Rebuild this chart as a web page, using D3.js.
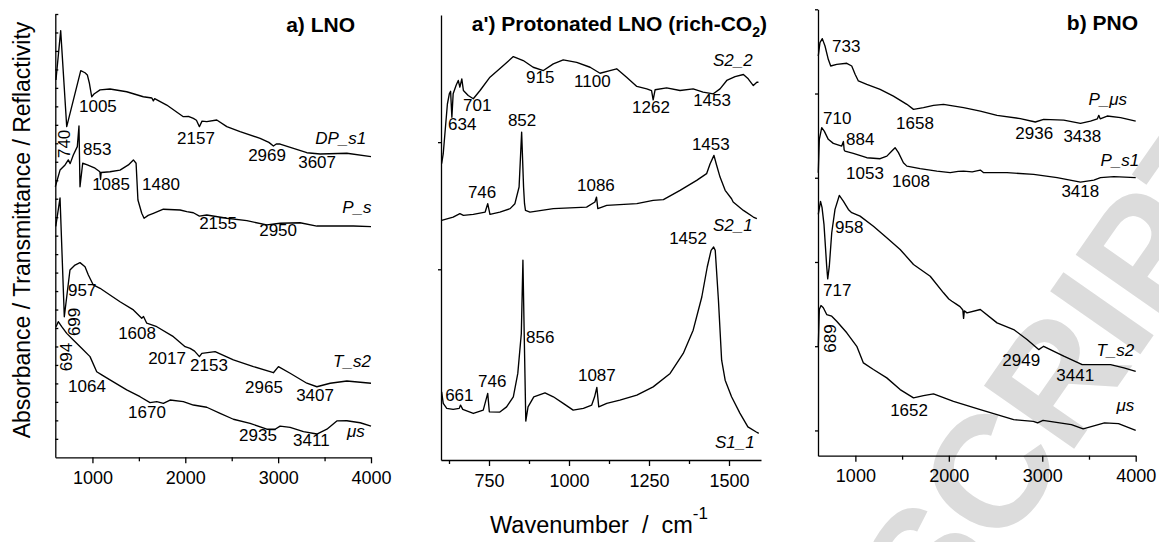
<!DOCTYPE html>
<html><head><meta charset="utf-8">
<script src="https://cdn.jsdelivr.net/npm/d3@7/dist/d3.min.js"></script>
<style>
html,body{margin:0;padding:0;background:#fff;}
svg{display:block;font-family:"Liberation Sans",Arial,Helvetica,sans-serif;}
</style></head><body>
<svg id="chart" width="1159" height="542"></svg>
<script>
// ---------------- DATA ----------------
// Panel a) LNO  (wavenumber cm-1, intensity a.u.)
const lnoDP_s1 = [[607,20.43],[658,23.10],[723,17.90],[874,20.93],[920,20.82],[945,20.70],[966,20.28],[992,19.52],[1017,19.67],[1082,19.89],[1189,19.94],[1369,19.79],[1548,19.52],[1640,19.45],[1656,19.30],[1670,19.42],[1800,19.07],[1979,18.44],[2040,18.45],[2087,18.35],[2120,18.25],[2152,17.90],[2180,18.20],[2231,18.17],[2339,18.26],[2447,17.90],[2590,17.63],[2806,17.27],[2900,17.05],[2949,16.85],[2980,16.96],[3021,16.96],[3165,16.73],[3309,16.49],[3453,16.42],[3740,16.46],[4000,16.28]];
const lnoP_s = [[600,14.65],[651,15.55],[705,15.83],[740,16.10],[760,15.90],[794,16.37],[837,16.82],[855,17.94],[866,14.65],[895,15.92],[945,15.83],[1028,15.65],[1080,15.46],[1087,15.05],[1094,15.42],[1189,15.46],[1297,15.55],[1387,15.83],[1441,16.10],[1470,15.92],[1490,13.93],[1531,13.21],[1556,12.94],[1600,13.10],[1656,13.21],[1764,13.43],[1944,13.39],[2016,13.30],[2087,13.24],[2152,13.06],[2231,13.12],[2447,12.94],[2663,12.81],[2878,12.58],[3021,12.67],[3236,12.70],[3417,12.52],[3596,12.52],[3811,12.52],[4000,12.49]];
const lnoT_s2 = [[605,12.50],[651,14.04],[697,7.61],[758,10.14],[812,10.41],[866,10.54],[920,10.32],[956,9.87],[1009,9.33],[1082,9.15],[1189,8.79],[1297,8.42],[1441,7.98],[1531,7.53],[1550,7.62],[1585,7.26],[1693,7.07],[1872,6.53],[1998,5.99],[2052,5.90],[2100,5.75],[2152,5.45],[2178,5.63],[2321,5.72],[2518,5.27],[2734,4.91],[2949,4.58],[3003,4.91],[3129,4.55],[3309,4.01],[3417,3.82],[3560,4.01],[3740,4.13],[4000,4.01]];
const lnoMus = [[608,7.07],[632,7.34],[669,7.07],[723,6.71],[794,6.35],[884,5.90],[974,5.45],[1046,4.63],[1100,4.46],[1189,4.19],[1369,3.65],[1513,3.28],[1620,2.96],[1693,3.01],[1764,2.92],[1836,3.10],[1979,3.01],[2087,2.83],[2231,2.71],[2375,2.38],[2518,2.06],[2698,1.84],[2878,1.52],[2967,1.52],[3021,1.69],[3129,1.62],[3273,1.39],[3417,1.26],[3525,1.52],[3632,1.97],[3740,1.98],[3884,1.87],[4000,1.69]];

// Panel a') Protonated LNO (rich-CO2)
const protS2_2 = [[602,0.830],[607,0.909],[620,1.300],[626,1.380],[630,1.400],[634,1.196],[638,1.380],[647,1.445],[654,1.485],[659,1.432],[665,1.498],[670,1.406],[685,1.367],[701,1.341],[722,1.406],[753,1.511],[795,1.603],[826,1.673],[857,1.642],[888,1.589],[920,1.563],[951,1.616],[982,1.647],[1024,1.628],[1066,1.589],[1097,1.542],[1128,1.563],[1149,1.577],[1180,1.511],[1212,1.438],[1243,1.419],[1258,1.406],[1263,1.333],[1269,1.412],[1305,1.427],[1347,1.406],[1388,1.419],[1419,1.393],[1451,1.380],[1472,1.419],[1493,1.485],[1519,1.516],[1545,1.532],[1560,1.498],[1576,1.445],[1587,1.471],[1592,1.471]];
const protS2_1 = [[602,0.385],[638,0.411],[659,0.438],[670,0.424],[701,0.432],[738,0.450],[746,0.516],[753,0.432],[784,0.450],[816,0.477],[831,0.516],[844,0.647],[852,1.079],[858,0.647],[861,0.516],[864,0.463],[878,0.450],[951,0.477],[1055,0.489],[1081,0.529],[1086,0.568],[1090,0.477],[1118,0.503],[1212,0.516],[1263,0.542],[1295,0.548],[1347,0.621],[1399,0.699],[1430,0.752],[1441,0.830],[1453,0.896],[1460,0.830],[1472,0.725],[1488,0.621],[1508,0.555],[1513,0.529],[1545,0.463],[1576,0.411],[1587,0.398]];
const protS1_1 = [[602,-0.964],[607,-1.055],[618,-1.094],[638,-1.102],[657,-1.094],[661,-1.068],[668,-1.102],[701,-1.134],[732,-1.108],[746,-0.976],[751,-1.121],[784,-1.123],[805,-1.082],[826,-1.003],[840,-0.819],[851,-0.505],[856,0.071],[860,-0.505],[865,-1.194],[872,-1.082],[890,-1.003],[925,-0.972],[951,-1.003],[982,-1.055],[1013,-1.108],[1045,-1.094],[1071,-1.068],[1080,-1.003],[1087,-0.929],[1093,-1.082],[1118,-1.055],[1159,-1.029],[1212,-0.990],[1263,-0.925],[1316,-0.819],[1357,-0.662],[1388,-0.479],[1415,-0.218],[1432,0.018],[1444,0.149],[1452,0.175],[1457,0.149],[1467,-0.244],[1477,-0.715],[1488,-0.872],[1508,-1.003],[1534,-1.131],[1559,-1.239],[1584,-1.278],[1593,-1.291]];

// Panel b) PNO
const pnoP_mus = [[603,4.446],[621,4.605],[646,4.652],[675,4.564],[710,4.406],[736,4.327],[800,4.347],[908,4.359],[961,4.327],[997,4.228],[1032,4.149],[1122,4.109],[1265,4.050],[1407,3.970],[1551,3.872],[1622,3.812],[1729,3.832],[1836,3.860],[1943,3.872],[2158,3.832],[2337,3.792],[2516,3.741],[2765,3.702],[2926,3.662],[3015,3.693],[3230,3.685],[3409,3.646],[3516,3.673],[3590,3.700],[3605,3.741],[3620,3.700],[3695,3.733],[3838,3.714],[4000,3.673]];
const pnoP_s1 = [[603,3.060],[614,3.456],[640,3.595],[667,3.554],[710,3.456],[764,3.408],[854,3.376],[872,3.430],[880,3.330],[889,3.317],[978,3.289],[1122,3.238],[1265,3.226],[1337,3.257],[1390,3.317],[1425,3.357],[1461,3.298],[1514,3.179],[1551,3.138],[1693,3.108],[1872,3.079],[2015,3.060],[2100,3.075],[2158,3.079],[2250,3.070],[2337,3.091],[2373,3.060],[2623,3.060],[2908,3.040],[3159,3.001],[3409,2.948],[3552,2.972],[3623,3.001],[3766,3.013],[4000,3.001]];
const pnoT_s2 = [[603,2.564],[627,2.719],[643,2.648],[664,2.446],[693,1.950],[704,1.800],[721,1.950],[747,2.347],[782,2.624],[828,2.790],[871,2.723],[925,2.624],[961,2.585],[1050,2.544],[1193,2.425],[1336,2.288],[1479,2.149],[1622,1.970],[1801,1.831],[1943,1.634],[2000,1.560],[2033,1.534],[2080,1.500],[2120,1.470],[2150,1.430],[2158,1.330],[2166,1.420],[2194,1.396],[2337,1.436],[2516,1.277],[2694,1.198],[2837,1.079],[2962,0.960],[3015,0.999],[3230,0.881],[3427,0.782],[3588,0.782],[3731,0.782],[3874,0.743],[4000,0.702]];
const pnoMus = [[603,0.999],[614,1.436],[632,1.483],[657,1.456],[693,1.376],[747,1.356],[800,1.296],[908,1.159],[1015,0.999],[1086,0.802],[1193,0.723],[1336,0.624],[1479,0.485],[1622,0.386],[1729,0.414],[1836,0.434],[2050,0.346],[2337,0.247],[2694,0.128],[2905,0.108],[2950,0.090],[3008,0.120],[3312,0.069],[3438,0.018],[3666,0.089],[3816,0.081],[4000,0.001]];

// Tick values
const ticksA = [1000,2000,3000,4000], minorA = [1500,2500,3500];
const ticksAp = [750,1000,1250,1500], minorAp = [625,875,1125,1375];
const ticksB = [1000,2000,3000,4000], minorB = [1500,2500,3500];
const yTicksA = d3.range(1,25), yTicksAp = [0,1], yTicksB = [0,1,2,3,4,5];

// Annotations: [text, wavenumber, intensity]
const peakLabelsA = [["1005",855,18.70],["853",899,16.37],["2157",1911,16.96],["2969",2677,16.04],["3607",3216,15.66],["1085",997,14.47],["1480",1535,14.47],["2155",2149,12.36],["2950",2796,11.98],["957",737,8.73],["1608",1277,6.41],["2017",1600,5.05],["2153",2052,4.67],["1064",737,3.54],["2965",2644,3.48],["3407",3194,3.05],["1670",1384,2.13],["2935",2579,0.88],["3411",3161,0.61]];
const rotLabelsA = [["740",694,16.97],["699",812,7.33],["694",726,5.43]];
const nameLabelsA = [["DP_s1",3399,16.96],["P_s",3690,13.23],["T_s2",3592,4.89],["μs",3741,1.10]];

const peakLabelsAp = [["915",866,1.465],["1100",1016,1.433],["701",669,1.245],["634",622,1.096],["1262",1197,1.229],["1453",1388,1.284],["852",809,1.128],["1453",1384,0.939],["1086",1025,0.616],["746",684,0.561],["1452",1313,0.199],["856",866,-0.580],["1087",1028,-0.878],["746",716,-0.925],["661",613,-1.036]];
const rotLabelsAp = [];
const nameLabelsAp = [["S2_2",1450,1.599],["S2_1",1450,0.301],["S1_1",1456,-1.406]];

const peakLabelsB = [["733",750,4.490],["710",654,3.634],["1658",1436,3.574],["2936",2712,3.455],["3438",3226,3.420],["884",900,3.384],["1053",900,2.980],["1608",1393,2.885],["3418",3205,2.766],["958",782,2.350],["717",654,1.601],["2949",2572,0.770],["3441",3151,0.592],["1652",1372,0.176]];
const rotLabelsB = [["689",729,1.091]];
const nameLabelsB = [["P_μs",3494,3.860],["P_s1",3623,3.135],["T_s2",3580,0.889],["μs",3795,0.235]];

// ---------------- DRAWING ----------------
const svg = d3.select('#chart');

// watermark (clipped to the page)
svg.append('clipPath').attr('id','page').append('rect')
  .attr('x',0).attr('y',0).attr('width',1159).attr('height',542);
svg.append('g').attr('clip-path','url(#page)').append('text')
  .attr('transform','translate(1277,159) rotate(-55)')
  .attr('text-anchor','end')
  .attr('font-size',160).attr('font-weight','bold')
  .attr('fill','#dcdcdc')
  .text('ACCEPTED MANUSCRIPT');

const panels = [
  {xr:[55.3,371], yr:[457.3,14], xd:[600,4000], yd:[0,24], major:ticksA, minor:minorA, yt:yTicksA, yTick:-3,
   series:[lnoDP_s1,lnoP_s,lnoT_s2,lnoMus], peaks:peakLabelsA, rots:rotLabelsA, names:nameLabelsA},
  {xr:[441,761], yr:[460,15], xd:[600,1600], yd:[-1.5,2], major:ticksAp, minor:minorAp, yt:yTicksAp, yTick:3,
   series:[protS2_2,protS2_1,protS1_1], peaks:peakLabelsAp, rots:rotLabelsAp, names:nameLabelsAp},
  {xr:[818,1135.7], yr:[455.7,9.3], xd:[600,4000], yd:[-0.3,5], major:ticksB, minor:minorB, yt:yTicksB, yTick:3,
   series:[pnoP_mus,pnoP_s1,pnoT_s2,pnoMus], peaks:peakLabelsB, rots:rotLabelsB, names:nameLabelsB}
];

function styleAxis(sel){
  sel.attr('font-family',null).attr('font-size',null);
  sel.selectAll('path.domain, line').attr('stroke','#000').attr('stroke-width',1.3);
  sel.selectAll('text').attr('fill','#000').attr('font-size',18)
     .attr('font-family','"Liberation Sans",Arial,sans-serif');
}

panels.forEach(p=>{
  const x = d3.scaleLinear().domain(p.xd).range(p.xr);
  const y = d3.scaleLinear().domain(p.yd).range(p.yr);
  const g = svg.append('g');

  const minorAx = g.append('g').attr('transform',`translate(0,${p.yr[0]})`)
    .call(d3.axisBottom(x).tickValues(p.minor).tickSize(4).tickSizeOuter(0).tickFormat(''));
  minorAx.select('path.domain').remove();
  styleAxis(minorAx);

  const majorAx = g.append('g').attr('transform',`translate(0,${p.yr[0]})`)
    .call(d3.axisBottom(x).tickValues(p.major).tickSize(6).tickSizeOuter(0).tickPadding(8).tickFormat(d3.format('d')));
  styleAxis(majorAx);

  const yAx = g.append('g').attr('transform',`translate(${p.xr[0]},0)`)
    .call(d3.axisLeft(y).tickValues(p.yt).tickSize(p.yTick).tickSizeOuter(0).tickFormat(''));
  styleAxis(yAx);

  const line = d3.line().x(d=>x(d[0])).y(d=>y(d[1]));
  p.series.forEach(s=>{
    g.append('path').attr('d',line(s)).attr('fill','none')
      .attr('stroke','#000').attr('stroke-width',1.35).attr('stroke-linejoin','round');
  });

  g.selectAll('text.pk').data(p.peaks).join('text').attr('class','pk')
    .attr('x',d=>x(d[1])).attr('y',d=>y(d[2]))
    .attr('font-size',17).attr('fill','#000').text(d=>d[0]);

  g.selectAll('text.nm').data(p.names).join('text').attr('class','nm')
    .attr('x',d=>x(d[1])).attr('y',d=>y(d[2]))
    .attr('font-size',17).attr('font-style','italic').attr('fill','#000').text(d=>d[0]);

  g.selectAll('text.rt').data(p.rots).join('text').attr('class','rt')
    .attr('transform',d=>`translate(${x(d[1])},${y(d[2])}) rotate(-90)`)
    .attr('text-anchor','middle').attr('dominant-baseline','central')
    .attr('font-size',17).attr('fill','#000').text(d=>d[0]);
});

// panel titles
svg.append('text').attr('x',355).attr('y',32).attr('text-anchor','end')
  .attr('font-size',21).attr('font-weight','bold').text('a) LNO');
const tAp = svg.append('text').attr('x',767).attr('y',31).attr('text-anchor','end')
  .attr('font-size',21).attr('font-weight','bold');
tAp.append('tspan').text("a') Protonated LNO (rich-CO");
tAp.append('tspan').attr('font-size',14).attr('dy',6).text('2');
tAp.append('tspan').attr('dy',-6).text(')');
svg.append('text').attr('x',1138).attr('y',30).attr('text-anchor','end')
  .attr('font-size',21).attr('font-weight','bold').text('b) PNO');

// axis titles
svg.append('text').attr('transform','translate(30,230) rotate(-90)')
  .attr('text-anchor','middle').attr('font-size',23)
  .text('Absorbance / Transmittance / Reflactivity');
const xt = svg.append('text').attr('x',490).attr('y',533).attr('font-size',23.5)
  .attr('xml:space','preserve').style('white-space','pre');
xt.append('tspan').text('Wavenumber  /  cm');
xt.append('tspan').attr('font-size',17).attr('dy',-14).text('-1');
</script>
</body></html>
